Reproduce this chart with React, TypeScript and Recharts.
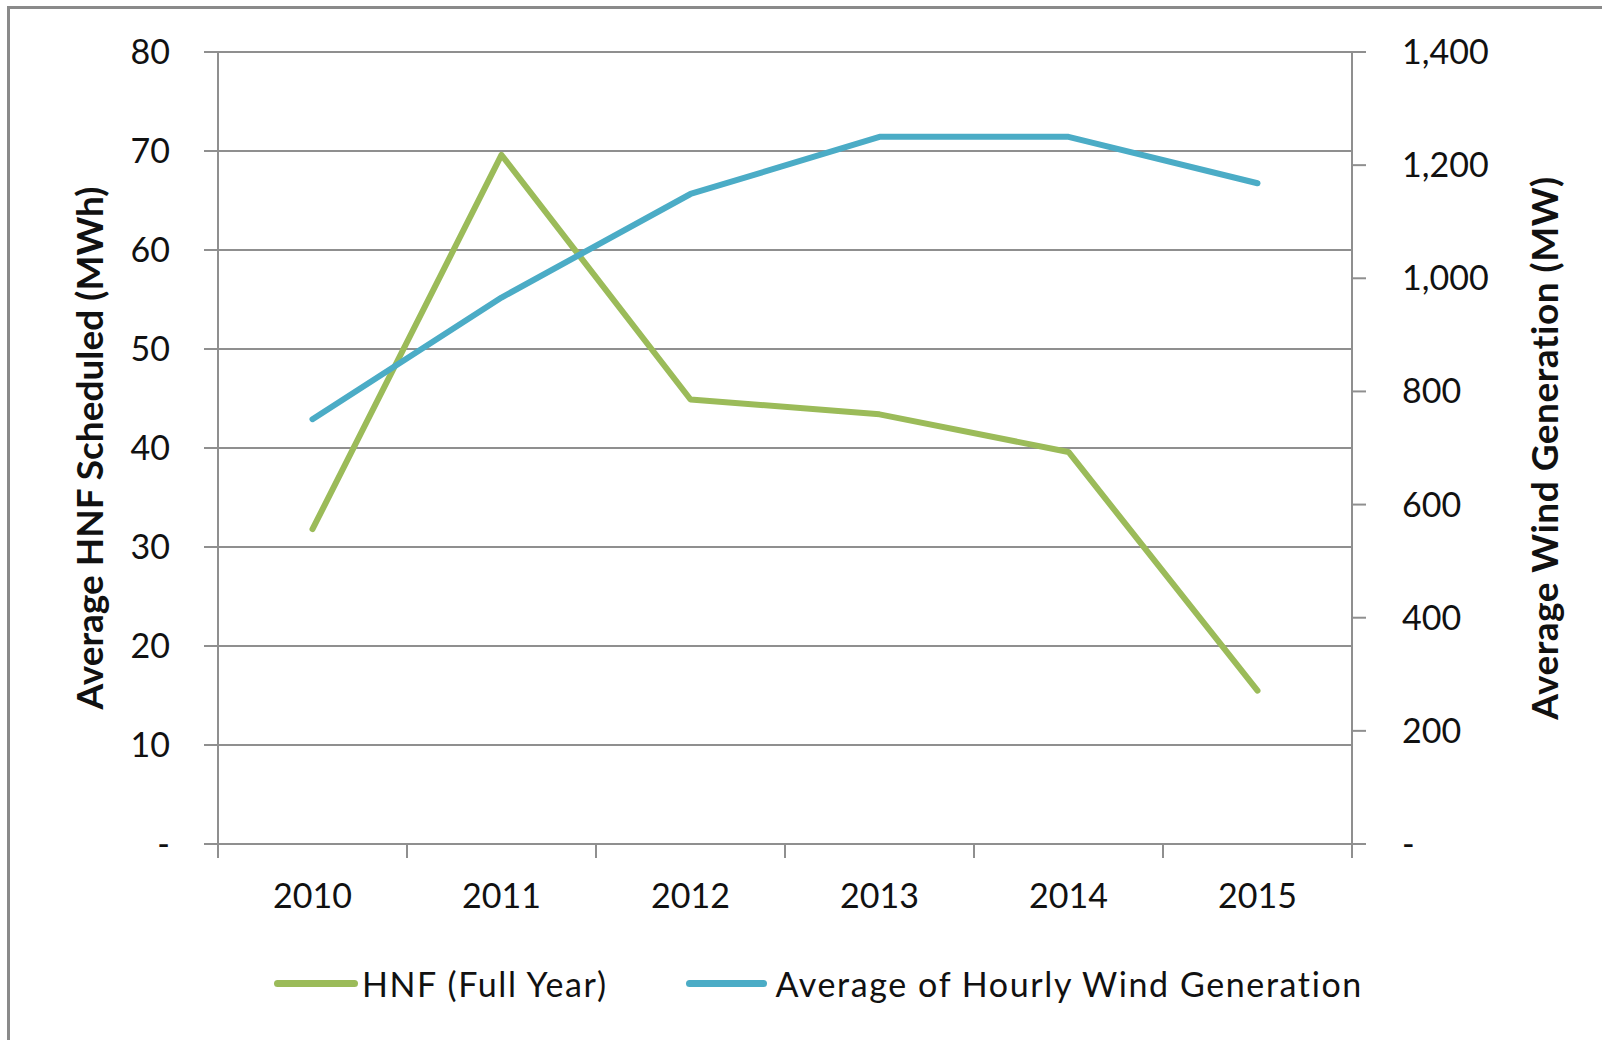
import { LineChart, Line, XAxis, YAxis, CartesianGrid, Legend } from 'recharts';

const years = ['2010', '2011', '2012', '2013', '2014', '2015'];
const hnfFullYear = [31.8, 69.6, 44.9, 43.4, 39.6, 15.5];
const hourlyWind = [751, 966, 1149, 1250, 1250, 1168];
const hnfTicks = [0, 10, 20, 30, 40, 50, 60, 70, 80];
const windTicks = [0, 200, 400, 600, 800, 1000, 1200, 1400];
const seriesNames = ['HNF (Full Year)', 'Average of Hourly Wind Generation'];

const chartData = years.map((year, i) => ({
  year,
  hnf: hnfFullYear[i],
  wind: hourlyWind[i],
}));

const GRID = '#8f8f8f';
const GREEN = '#9BBB59';
const BLUE = '#4BACC6';
const FONT = 'Lato, "Open Sans", sans-serif';

const YearTick = (props: any) => {
  const { x, y, payload, index, visibleTicksCount } = props;
  const half = payload && payload.offset ? payload.offset : 94.5;
  const last = index === visibleTicksCount - 1;
  return (
    <g>
      <line x1={x - half} x2={x - half} y1={y} y2={y + 14} stroke={GRID} strokeWidth={2} />
      {last && <line x1={x + half} x2={x + half} y1={y} y2={y + 14} stroke={GRID} strokeWidth={2} />}
      <text x={x} y={y + 64} textAnchor="middle" fill="#111" fontSize={34} fontFamily={FONT}>
        {payload.value}
      </text>
    </g>
  );
};

const axisTitle = (text: string, dx: number, spacing: number) => (props: any) => {
  const vb = props.viewBox;
  const cx = vb.x + dx;
  const cy = vb.y + vb.height / 2;
  return (
    <text
      x={cx}
      y={cy}
      transform={`rotate(-90 ${cx} ${cy})`}
      textAnchor="middle"
      dominantBaseline="central"
      fontSize={37}
      fontWeight="bold"
      fontFamily={FONT}
      letterSpacing={spacing}
      fill="#111"
    >
      {text}
    </text>
  );
};

const renderLegend = (props: any) => {
  const items = [...(props.payload || [])].sort(
    (a: any, b: any) => seriesNames.indexOf(a.value) - seriesNames.indexOf(b.value)
  );
  return (
    <div style={{ display: 'flex', alignItems: 'center', paddingLeft: 274, height: 50, fontFamily: FONT }}>
      {items.map((item: any, i: number) => (
        <div key={item.value} style={{ display: 'flex', alignItems: 'center', marginRight: i === 0 ? 78 : 0 }}>
          <span style={{ display: 'inline-block', width: i === 0 ? 84 : 81, height: 7, borderRadius: 4, background: item.color, marginRight: i === 0 ? 4 : 9 }} />
          <span style={{ fontSize: 34, letterSpacing: 1.6, color: '#111', whiteSpace: 'nowrap' }}>{item.value}</span>
        </div>
      ))}
    </div>
  );
};

export default function App() {
  return (
    <div style={{ position: 'absolute', left: 0, top: 0, width: 1602, height: 1040, background: '#fff', fontFamily: FONT }}>
      <div style={{ position: 'absolute', left: 7, top: 6, right: 0, bottom: 0, borderLeft: `3px solid #8a8a8a`, borderTop: `3px solid #8a8a8a` }} />
      <div style={{ position: 'absolute', left: 0, top: 0 }}>
        <LineChart width={1602} height={1040} data={chartData} margin={{ top: 52, right: 0, bottom: 116, left: 0 }}>
          <CartesianGrid yAxisId="left" vertical={false} stroke={GRID} strokeWidth={2} />
          <XAxis
            dataKey="year"
            scale="band"
            height={80}
            tickSize={0}
            tickMargin={0}
            tickLine={false}
            axisLine={{ stroke: GRID, strokeWidth: 2 }}
            tick={<YearTick />}
            interval={0}
          />
          <YAxis
            yAxisId="left"
            width={218}
            domain={[0, 80]}
            ticks={hnfTicks}
            tickSize={14}
            tickMargin={34}
            axisLine={{ stroke: GRID, strokeWidth: 2 }}
            tickLine={{ stroke: GRID, strokeWidth: 2 }}
            tick={{ fill: '#111', fontSize: 34, fontFamily: FONT }}
            tickFormatter={(v: number) => (v === 0 ? '-' : String(v))}
            label={{ content: axisTitle('Average HNF Scheduled (MWh)', 88, 0) }}
          />
          <YAxis
            yAxisId="right"
            orientation="right"
            width={250}
            domain={[0, 1400]}
            ticks={windTicks}
            tickSize={14}
            tickMargin={36}
            axisLine={{ stroke: GRID, strokeWidth: 2 }}
            tickLine={{ stroke: GRID, strokeWidth: 2 }}
            tick={{ fill: '#111', fontSize: 34, fontFamily: FONT }}
            tickFormatter={(v: number) => (v === 0 ? '-' : v.toLocaleString('en-US'))}
            label={{ content: axisTitle('Average Wind Generation (MW)', 191, 0.5) }}
          />
          <Legend
            layout="horizontal"
            verticalAlign="middle"
            align="center"
            wrapperStyle={{ left: 0, top: 958, width: 1602 }}
            content={renderLegend}
          />
          <Line
            yAxisId="left"
            dataKey="hnf"
            name={seriesNames[0]}
            stroke={GREEN}
            strokeWidth={6}
            strokeLinejoin="round"
            strokeLinecap="round"
            dot={false}
            activeDot={false}
            isAnimationActive={false}
          />
          <Line
            yAxisId="right"
            dataKey="wind"
            name={seriesNames[1]}
            stroke={BLUE}
            strokeWidth={6}
            strokeLinejoin="round"
            strokeLinecap="round"
            dot={false}
            activeDot={false}
            isAnimationActive={false}
          />
        </LineChart>
      </div>
    </div>
  );
}
